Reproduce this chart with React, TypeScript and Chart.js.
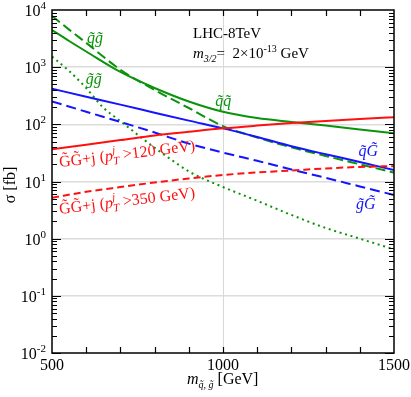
import React, { useEffect, useRef } from 'react';
import { Chart, registerables } from 'chart.js';
Chart.register(...registerables);

// ---------- data ----------
const MASS = [500, 600, 700, 800, 900, 1000, 1100, 1200, 1300, 1400, 1500];
const MASS_SQ = [500, 550, 600, 700, 800, 900, 1000, 1100, 1200, 1300, 1400, 1500];
const MASS_GL = [500, 550, 600, 650, 700, 750, 800, 850, 900, 950, 1000, 1100, 1200, 1300, 1400, 1500];

const SQ_SQ = [4470, 2870, 1880, 824, 432, 251, 166, 129, 110, 95, 81, 70]; // green solid
const SQ_GL = [7850, 4540, 2660, 903, 400, 193, 93, 59, 39.5, 28, 20, 14.3]; // green dashed
const GL_GL = [1530, 857, 432, 196, 114, 66, 39, 23.8, 15, 10.7, 8.0, 4.6, 2.6, 1.54, 1.0, 0.65]; // green dotted
const SQ_GRAV = [420, 304, 221, 160, 116, 85, 60, 41.5, 30, 22, 15.8]; // blue solid
const GL_GRAV = [252, 166, 110, 72, 46, 32, 23, 16.2, 11.6, 8.2, 5.8]; // blue dashed
const GRAV_J120 = [36.6, 44, 53, 64, 74, 85, 95, 105, 114, 124, 133]; // red solid
const GRAV_J350 = [5.2, 6.6, 8.0, 9.6, 11.3, 13, 14.4, 15.6, 16.9, 18, 18.6]; // red dashed

const X_TICK_LABELS = [500, 1000, 1500];
const X_MINOR = [600, 700, 800, 900, 1000, 1100, 1200, 1300, 1400];
const Y_DECADES = [-2, -1, 0, 1, 2, 3, 4];

const GREEN = '#0b930b';
const BLUE = '#1414ff';
const RED = '#ff1010';
const FONT = '"Liberation Serif", "DejaVu Serif", serif';

type Part = { t: string; size?: number; dy?: number; italic?: boolean; advance?: boolean };

function setFont(ctx: CanvasRenderingContext2D, size: number, italic?: boolean) {
  ctx.font = `${italic ? 'italic ' : ''}${size}px ${FONT}`;
}
function measureParts(ctx: CanvasRenderingContext2D, parts: Part[], base: number) {
  let w = 0;
  for (const p of parts) {
    setFont(ctx, p.size ?? base, p.italic);
    if (p.advance !== false) w += ctx.measureText(p.t).width;
  }
  return w;
}
function drawParts(ctx: CanvasRenderingContext2D, parts: Part[], x: number, y: number, color: string, base: number) {
  let cx = x;
  ctx.fillStyle = color;
  ctx.textAlign = 'left';
  ctx.textBaseline = 'alphabetic';
  for (const p of parts) {
    setFont(ctx, p.size ?? base, p.italic);
    ctx.fillText(p.t, cx, y + (p.dy ?? 0));
    if (p.advance !== false) cx += ctx.measureText(p.t).width;
  }
}

const T = '\u0303';
const curveLabels: { x: number; y: number; parts: Part[]; color: string; rot?: number }[] = [
  { x: 602, y: 2650, parts: [{ t: 'q' + T + 'g' + T, italic: true }], color: GREEN },
  { x: 599, y: 508, parts: [{ t: 'g' + T + 'g' + T, italic: true }], color: GREEN },
  { x: 977, y: 209, parts: [{ t: 'q' + T + 'q' + T, italic: true }], color: GREEN },
  { x: 1396, y: 27.9, parts: [{ t: 'q' + T + 'G' + T, italic: true }], color: BLUE },
  { x: 1389, y: 3.3, parts: [{ t: 'g' + T + 'G' + T, italic: true }], color: BLUE },
  {
    x: 523, y: 17.9, rot: -7, color: RED,
    parts: [
      { t: 'G' + T + 'G' + T + '+j (' },
      { t: 'p', italic: true },
      { t: 'j', size: 11, dy: -7, italic: true, advance: false },
      { t: 'T', size: 11, dy: 4, italic: true },
      { t: ' >120 GeV)' },
    ],
  },
  {
    x: 523, y: 2.7, rot: -7, color: RED,
    parts: [
      { t: 'G' + T + 'G' + T + '+j (' },
      { t: 'p', italic: true },
      { t: 'j', size: 11, dy: -7, italic: true, advance: false },
      { t: 'T', size: 11, dy: 4, italic: true },
      { t: ' >350 GeV)' },
    ],
  },
];

const decoPlugin = {
  id: 'deco',
  afterDatasetsDraw(chart: any) {
    const ctx: CanvasRenderingContext2D = chart.ctx;
    const xs = chart.scales.x;
    const ys = chart.scales.y;
    ctx.save();
    for (const l of curveLabels) {
      const px = xs.getPixelForValue(l.x);
      const py = ys.getPixelForValue(l.y);
      ctx.save();
      ctx.translate(px, py);
      if (l.rot) ctx.rotate((l.rot * Math.PI) / 180);
      drawParts(ctx, l.parts, 0, 0, l.color, 16);
      ctx.restore();
    }
    ctx.restore();
  },
  afterDraw(chart: any) {
    const ctx: CanvasRenderingContext2D = chart.ctx;
    const a = chart.chartArea;
    const xs = chart.scales.x;
    const ys = chart.scales.y;
    ctx.save();
    // frame
    ctx.strokeStyle = '#000';
    ctx.lineWidth = 1.5;
    ctx.strokeRect(a.left, a.top, a.right - a.left, a.bottom - a.top);
    ctx.lineWidth = 1.2;
    ctx.beginPath();
    for (const m of X_MINOR) {
      const px = Math.round(xs.getPixelForValue(m)) + 0.5;
      ctx.moveTo(px, a.bottom);
      ctx.lineTo(px, a.bottom - 6);
      ctx.moveTo(px, a.top);
      ctx.lineTo(px, a.top + 6);
    }
    for (let d = -2; d < 4; d++) {
      for (let k = 1; k <= 9; k++) {
        const v = k * Math.pow(10, d);
        const py = Math.round(ys.getPixelForValue(v)) + 0.5;
        const len = k === 1 ? 9 : 5;
        ctx.moveTo(a.left, py);
        ctx.lineTo(a.left + len, py);
        ctx.moveTo(a.right, py);
        ctx.lineTo(a.right - len, py);
      }
    }
    ctx.stroke();

    // y tick labels
    for (const d of Y_DECADES) {
      const py = ys.getPixelForValue(Math.pow(10, d));
      const parts: Part[] = [{ t: '10' }, { t: String(d), size: 11, dy: -7 }];
      const w = measureParts(ctx, parts, 16);
      drawParts(ctx, parts, 46 - w, py + 6, '#000', 16);
    }
    // x tick labels
    ctx.fillStyle = '#000';
    setFont(ctx, 16);
    ctx.textAlign = 'center';
    ctx.textBaseline = 'alphabetic';
    for (const v of X_TICK_LABELS) {
      ctx.fillText(String(v), xs.getPixelForValue(v), 370);
    }
    // x title
    drawParts(
      ctx,
      [
        { t: 'm', italic: true },
        { t: 'q' + T + ', g' + T, size: 10, dy: 4, italic: true },
        { t: ' [GeV]' },
      ],
      187, 384, '#000', 16
    );
    // y title
    ctx.save();
    ctx.translate(15, 185);
    ctx.rotate(-Math.PI / 2);
    setFont(ctx, 16);
    ctx.textAlign = 'center';
    ctx.fillStyle = '#000';
    ctx.fillText('\u03c3 [fb]', 0, 0);
    ctx.restore();

    // header text
    drawParts(ctx, [{ t: 'LHC-8TeV' }], 193, 38, '#000', 15);
    drawParts(
      ctx,
      [
        { t: 'm', italic: true },
        { t: '3/2', size: 10, dy: 4, italic: true },
        { t: '=  2\u00d710' },
        { t: '-13', size: 10, dy: -6 },
        { t: ' GeV' },
      ],
      193, 58, '#000', 15
    );
    ctx.restore();
  },
};

function pts(xs: number[], ys: number[]) {
  return xs.map((x, i) => ({ x, y: ys[i] }));
}

export default function App() {
  const ref = useRef<HTMLCanvasElement | null>(null);
  useEffect(() => {
    if (!ref.current) return;
    const mk = (data: any[], color: string, dash: number[]) => ({
      data,
      borderColor: color,
      borderWidth: 2,
      borderDash: dash,
      pointRadius: 0,
      fill: false,
      cubicInterpolationMode: 'monotone' as const,
    });
    const chart = new Chart(ref.current, {
      type: 'line',
      data: {
        datasets: [
          mk(pts(MASS, GRAV_J120), RED, []),
          mk(pts(MASS, GRAV_J350), RED, [7, 4]),
          mk(pts(MASS, GL_GRAV), BLUE, [10, 5]),
          mk(pts(MASS, SQ_GRAV), BLUE, []),
          mk(pts(MASS_GL, GL_GL), GREEN, [2, 3.7]),
          mk(pts(MASS_SQ, SQ_GL), GREEN, [10, 4.5]),
          mk(pts(MASS_SQ, SQ_SQ), GREEN, []),
        ],
      },
      options: {
        animation: false,
        responsive: false,
        devicePixelRatio: 1,
        layout: { padding: { left: 52, right: 17, top: 10, bottom: 44 } },
        plugins: { legend: { display: false }, tooltip: { enabled: false } },
        events: [],
        scales: {
          x: {
            type: 'linear',
            min: 500,
            max: 1500,
            afterBuildTicks: (s: any) => {
              s.ticks = [500, ...X_MINOR, 1500].map((v) => ({ value: v }));
            },
            afterFit: (s: any) => {
              s.height = 0;
            },
            ticks: { display: false },
            border: { display: false },
            grid: {
              drawTicks: false,
              lineWidth: 1,
              color: (c: any) => (c.tick && c.tick.value === 1000 ? '#d8d8d8' : 'rgba(0,0,0,0)'),
            },
          },
          y: {
            type: 'logarithmic',
            min: 0.01,
            max: 10000,
            afterBuildTicks: (s: any) => {
              s.ticks = Y_DECADES.map((d) => ({ value: Math.pow(10, d) }));
            },
            afterFit: (s: any) => {
              s.width = 0;
            },
            ticks: { display: false },
            border: { display: false },
            grid: {
              drawTicks: false,
              lineWidth: 1.5,
              color: (c: any) => {
                const v = c.tick ? c.tick.value : 0;
                return v > 0.05 && v < 5000 ? '#dcdcdc' : 'rgba(0,0,0,0)';
              },
            },
          },
        },
      },
      plugins: [decoPlugin],
    } as any);
    return () => chart.destroy();
  }, []);
  return (
    <div style={{ position: 'fixed', left: 0, top: 0, width: 411, height: 397, background: '#fff' }}>
      <canvas ref={ref} width={411} height={397} style={{ display: 'block', width: 411, height: 397 }} />
    </div>
  );
}
